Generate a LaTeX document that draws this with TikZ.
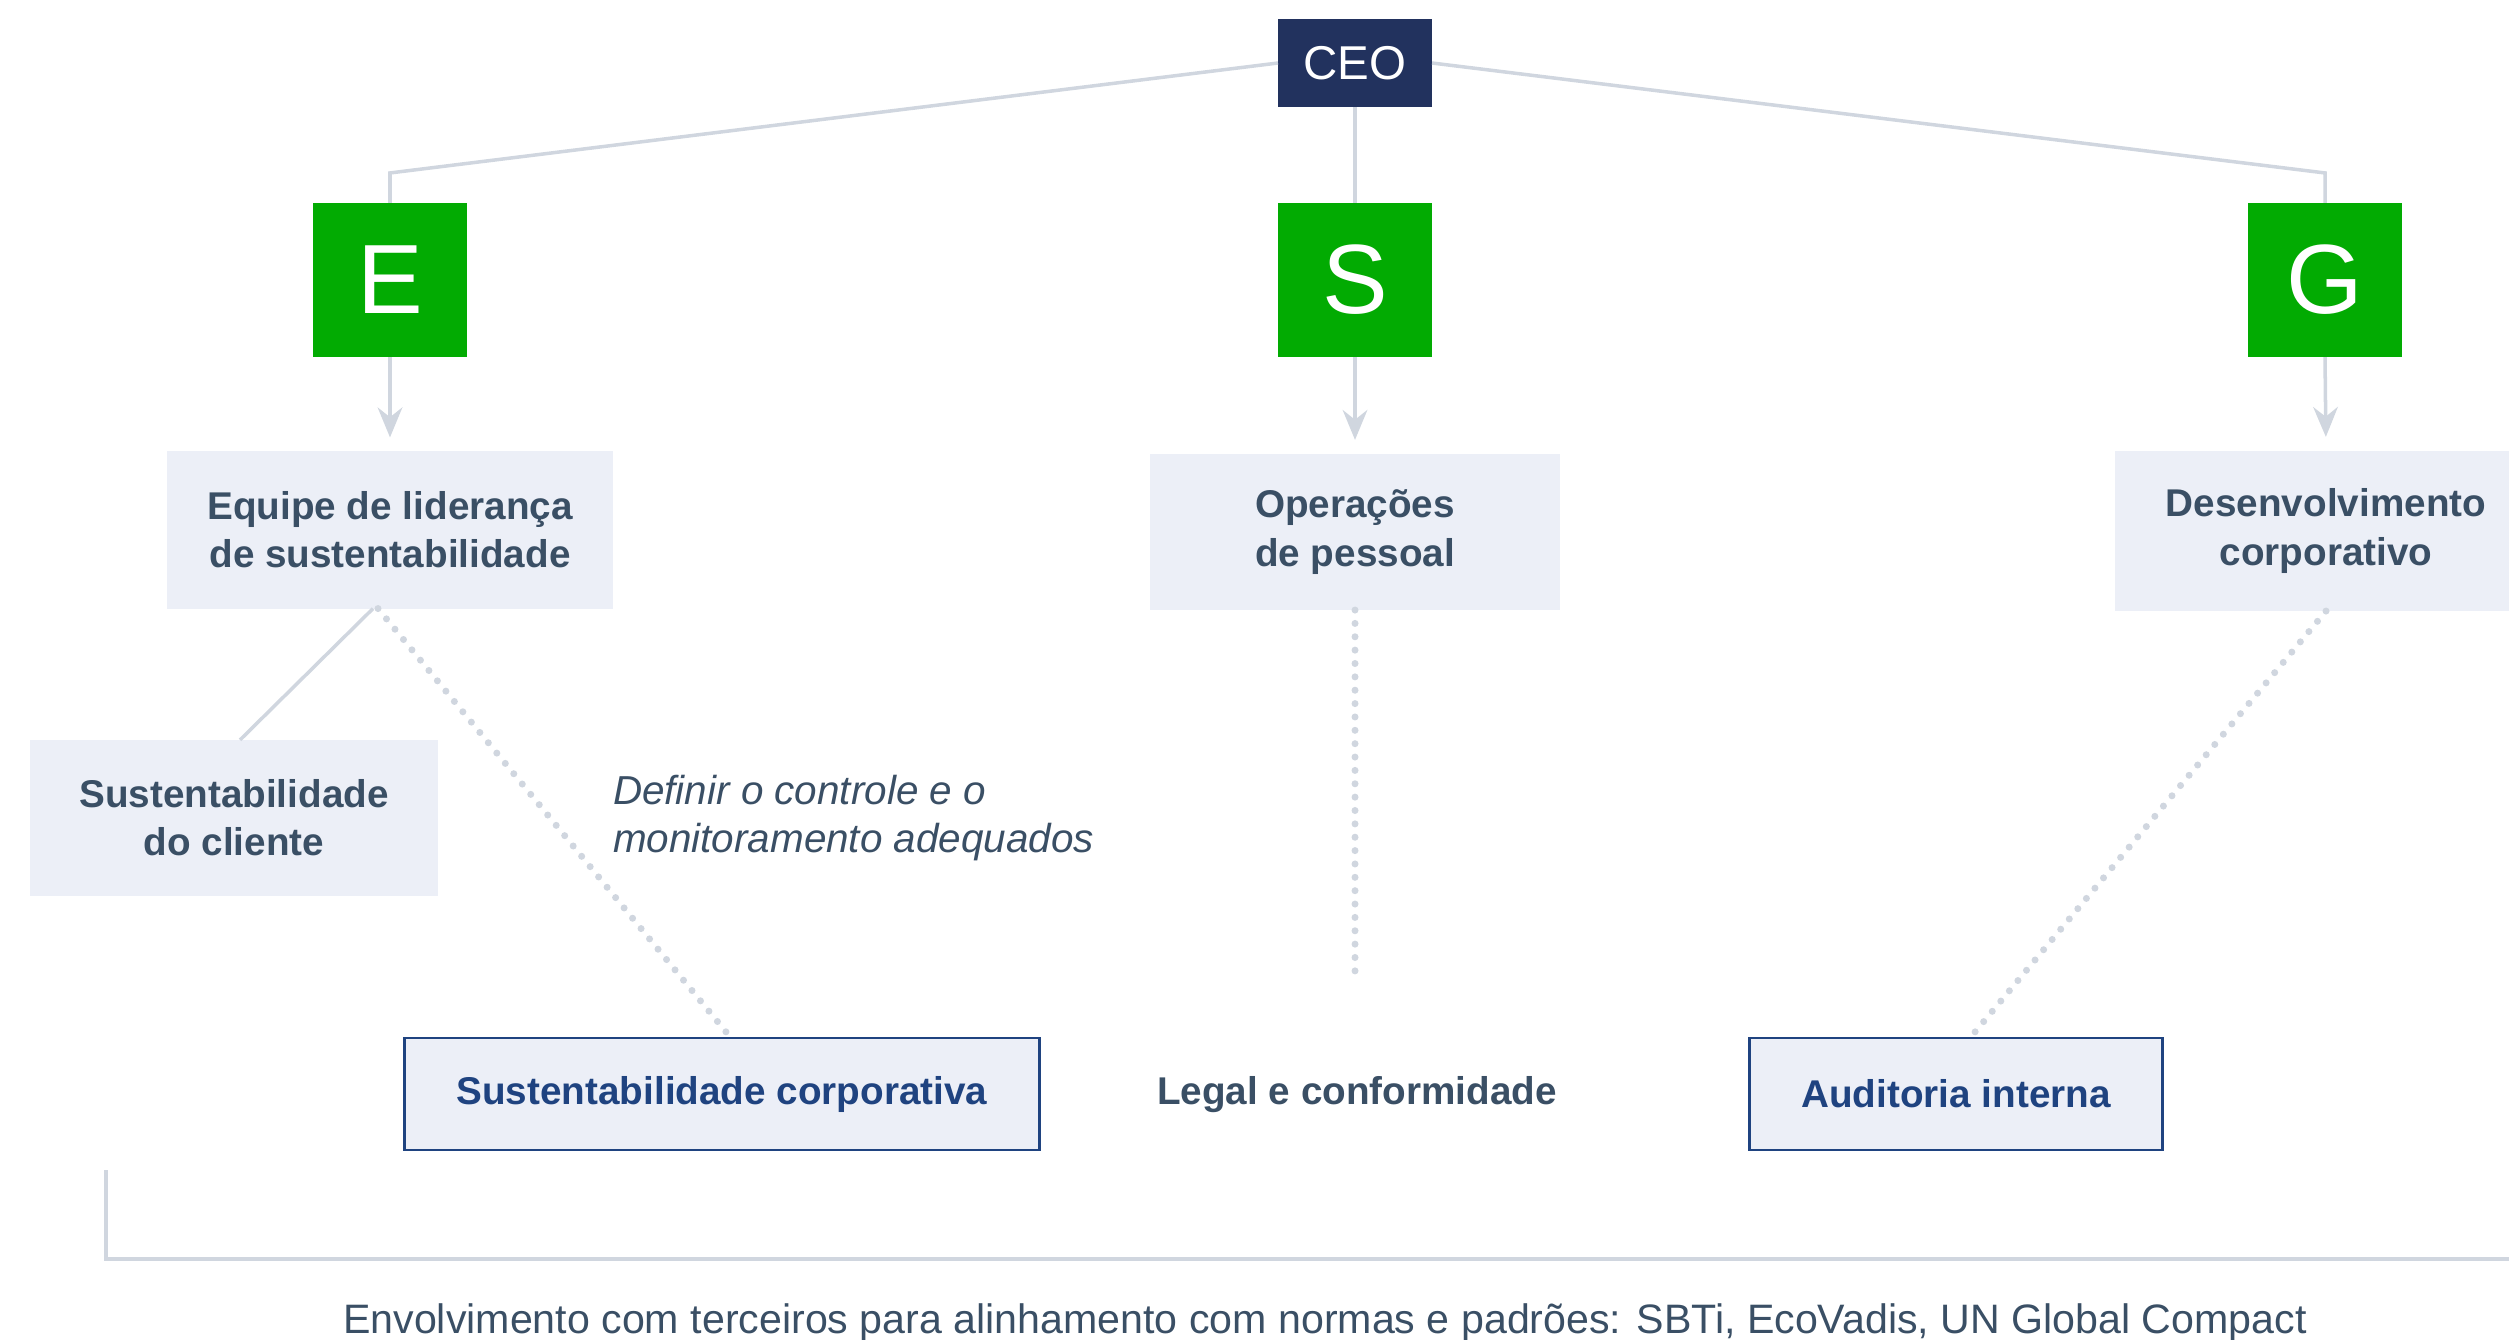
\documentclass[tikz,border=0pt]{standalone}
\usepackage{fontspec}
\setmainfont{Liberation Sans}
\usetikzlibrary{arrows.meta, calc}

\definecolor{ceoBlue}{HTML}{22325E}
\definecolor{esgGreen}{HTML}{02AB02}
\definecolor{boxGray}{HTML}{ECEFF7}
\definecolor{lineGray}{HTML}{D0D6DF}
\definecolor{textSlate}{HTML}{3A4F65}
\definecolor{deepBlue}{HTML}{1F4380}

\begin{document}
\begin{tikzpicture}[
    %1 unit = 1 pixel of the sheet, y runs downwards
    x=0.01cm, y=-0.01cm,
    line width = 1pt,
    every node/.style={inner sep=0pt, outer sep=0pt},
    ceo/.style={fill=ceoBlue, text=white, minimum width=1.54cm, minimum height=0.88cm,
        font=\fontsize{13.5}{15}\selectfont},
    pillar/.style={fill=esgGreen, text=white, minimum width=1.54cm, minimum height=1.54cm,
        font=\fontsize{28}{30}\selectfont},
    unit/.style={fill=boxGray, text=textSlate, align=center,
        font=\bfseries\fontsize{11}{13.7}\selectfont},
    framed/.style={fill=boxGray, draw=deepBlue, line width=0.8pt, text=deepBlue,
        font=\bfseries\fontsize{11}{13.7}\selectfont},
    link/.style={lineGray, line width=1pt},
    feed/.style={link, -{Stealth[length=8.5pt, width=7pt]}, shorten >=4pt},
    dots/.style={lineGray, line width=2pt, line cap=round, dash pattern=on 0pt off 3.8pt}
    ]

    % Determines the boundries
    \clip (0,0) rectangle (2509,1339);

    \def\gap{30}

    % Top of the tree
    \node[ceo] (ceo) at (1355,63) {CEO};
    \node[pillar] (E) at (390,280) {E};
    \node[pillar] (S) at (1355,280) {S};
    \node[pillar] (G) at (2325,280) {G};

    % Units under each pillar
    \node[unit, minimum width=4.45cm, minimum height=1.57cm] (lead) at (390,530)
        {Equipe de liderança\\de sustentabilidade};
    \node[unit, minimum width=4.10cm, minimum height=1.56cm, align=left] (ops) at (1355,532)
        {Operações\\de pessoal};
    \node[unit, minimum width=4.22cm, minimum height=1.60cm] (dev) at (2326,531)
        {Desenvolvimento\\corporativo};
    \node[unit, minimum width=4.07cm, minimum height=1.56cm] (client) at (234,818)
        {Sustentabilidade\\do cliente};

    \node[anchor=west, align=left, text=textSlate, font=\itshape\fontsize{11.5}{13.7}\selectfont]
        (note) at (613,818) {Definir o controle e o\\monitoramento adequados};

    % Bottom row
    \node[framed, minimum width=6.35cm, minimum height=1.12cm] (corp) at (722,1094)
        {Sustentabilidade corporativa};
    \node[text=textSlate, font=\bfseries\fontsize{11}{13.7}\selectfont] (legal) at (1357,1095)
        {Legal e conformidade};
    \node[framed, minimum width=4.13cm, minimum height=1.12cm] (audit) at (1956,1094)
        {Auditoria interna};

    % Outlining the tree
    \draw[link] (ceo.west) -- ($(E.north)+(0,-\gap)$) -- (E.north);
    \draw[link] (ceo.east) -- ($(G.north)+(0,-\gap)$) -- (G.north);
    \draw[link] (ceo.south) -- (S.north);

    \foreach \p/\u in {E/lead, S/ops, G/dev}{
        \draw[feed] (\p.south) -- (\u.north);
    }

    \draw[link] ($(lead.south)+(-17,0)$) -- ($(client.north)+(6,0)$);

    % Dotted reporting lines
    \coordinate (opsEnd) at (1355,976);
    \draw[dots] ($(lead.south)+(-12,0)$) -- ($(corp.north)+(9,0)$);
    \draw[dots] (ops.south) -- (opsEnd);
    \draw[dots] (dev.south) -- ($(audit.north)+(14,0)$);

    % Third parties
    \coordinate (brTop) at (106,1170);
    \coordinate (brEnd) at (2509,1259);
    \draw[link] (brTop) -- (brTop |- brEnd) -- (brEnd);
    \node[anchor=base, text=textSlate, font=\fontsize{11.7}{14}\selectfont] (party) at (1325,1333)
        {Envolvimento com terceiros para alinhamento com normas e padrões: SBTi, EcoVadis, UN Global Compact};

\end{tikzpicture}
\end{document}
